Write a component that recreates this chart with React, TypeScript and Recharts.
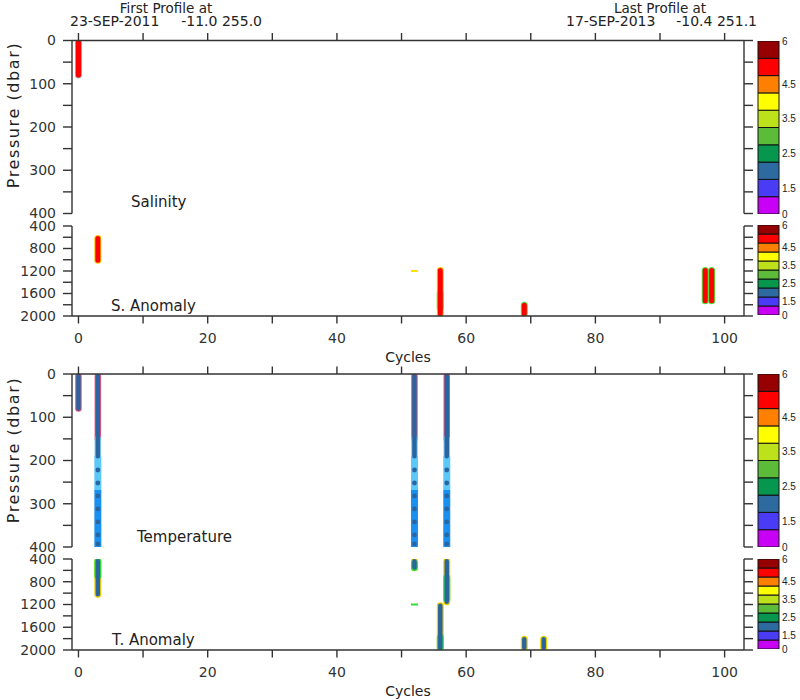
import React from 'react';
import { ComposedChart, Line, Scatter, XAxis, YAxis, BarChart, Bar } from 'recharts';

const FONT = 'DejaVu Sans';
const AXIS = '#333';

// axes
const cycleTicks = [0, 10, 20, 30, 40, 50, 60, 70, 80, 90, 100];
const shallowTicks = [0, 50, 100, 150, 200, 250, 300, 350, 400];
const deepTicks = [400, 600, 800, 1000, 1200, 1400, 1600, 1800, 2000];

// colour bar (bottom band first)
const bandColors = ['#c800f5', '#4a3cf5', '#2c6aa0', '#06964e', '#5dbb3a', '#bde21c', '#ffff00', '#ff8000', '#ff0000', '#960000'];
const colorbarBands = [{ name: 'cb', b0: 1, b1: 1, b2: 1, b3: 1, b4: 1, b5: 1, b6: 1, b7: 1, b8: 1, b9: 1 }];
const colorbarLabels = ['0', '1.5', '2.5', '3.5', '4.5', '6'];
const colorbarLabelAt = [0, 1.5, 3.5, 5.5, 7.5, 10];

// header
const firstProfile = { date: '23-SEP-2011', pos: '-11.0 255.0' };
const lastProfile = { date: '17-SEP-2013', pos: '-10.4 251.1' };

// Salinity 0-400 dbar: one column per profile, pressure range of the marks
const salCore = [{ cycle: 0, top: 5, bottom: 80 }];
const salEdge = [{ cycle: 0, top: 5, bottom: 80 }];

// S. Anomaly 400-2000 dbar
const sAnomCore = [
  { cycle: 3, top: 620, bottom: 1010 },
  { cycle: 56, top: 1190, bottom: 1960 },
  { cycle: 69, top: 1810, bottom: 1960 },
  { cycle: 97, top: 1190, bottom: 1730 },
  { cycle: 98, top: 1190, bottom: 1730 },
];
const sAnomYellow = [
  { cycle: 3, top: 620, bottom: 1010 },
  { cycle: 56, top: 1190, bottom: 1960 },
];
const sAnomGreen = [
  { cycle: 56, top: 1600, bottom: 1850 },
  { cycle: 69, top: 1810, bottom: 1960 },
  { cycle: 97, top: 1190, bottom: 1730 },
  { cycle: 98, top: 1190, bottom: 1730 },
];
const sAnomDash = [{ cycle: 52, p: 1200 }];

// Temperature 0-400 dbar
const tempCore = [
  { cycle: 0, top: 5, bottom: 80 },
  { cycle: 3, top: 5, bottom: 190 },
  { cycle: 52, top: 5, bottom: 190 },
  { cycle: 57, top: 5, bottom: 190 },
];
const tempPink = [
  { cycle: 0, top: 5, bottom: 80 },
  { cycle: 3, top: 5, bottom: 150 },
  { cycle: 52, top: 5, bottom: 150 },
  { cycle: 57, top: 5, bottom: 150 },
];
const tempPale = [
  { cycle: 3, top: 150, bottom: 190 },
  { cycle: 52, top: 150, bottom: 190 },
  { cycle: 57, top: 150, bottom: 190 },
];
const tempCyan = [
  { cycle: 3, top: 190, bottom: 268 },
  { cycle: 52, top: 190, bottom: 268 },
  { cycle: 57, top: 190, bottom: 268 },
];
const tempBlue = [
  { cycle: 3, top: 268, bottom: 400 },
  { cycle: 52, top: 268, bottom: 400 },
  { cycle: 57, top: 268, bottom: 400 },
];
const tempDotCycles = [3, 52, 57];
const tempDotPressures = [222, 252, 282, 312, 342, 372, 393];

// T. Anomaly 400-2000 dbar
const tAnomCore = [
  { cycle: 3, top: 440, bottom: 1020 },
  { cycle: 52, top: 440, bottom: 550 },
  { cycle: 57, top: 440, bottom: 1150 },
  { cycle: 56, top: 1220, bottom: 1960 },
  { cycle: 69, top: 1810, bottom: 1960 },
  { cycle: 72, top: 1810, bottom: 1960 },
];
const tAnomYellow = [
  { cycle: 3, top: 440, bottom: 1020 },
  { cycle: 52, top: 440, bottom: 550 },
  { cycle: 57, top: 440, bottom: 1150 },
  { cycle: 56, top: 1220, bottom: 1960 },
  { cycle: 69, top: 1810, bottom: 1960 },
  { cycle: 72, top: 1810, bottom: 1960 },
];
const tAnomGreen = [
  { cycle: 3, top: 440, bottom: 700 },
  { cycle: 52, top: 480, bottom: 550 },
  { cycle: 57, top: 730, bottom: 1100 },
  { cycle: 56, top: 1780, bottom: 1960 },
];
const tAnomDash = [{ cycle: 52, p: 1200 }];

type Seg = { cycle: number; top: number; bottom: number };

const toPath = (segs: Seg[]) =>
  segs.flatMap((s) => [
    { x: s.cycle, y: s.top },
    { x: s.cycle, y: s.bottom },
    { x: s.cycle, y: null },
  ]);

function seg(key: string, segs: Seg[], color: string, width: number, cap = 'round') {
  return (
    <Line
      key={key}
      yAxisId="l"
      data={toPath(segs)}
      dataKey="y"
      stroke={color}
      strokeWidth={width}
      strokeLinecap={cap as any}
      dot={false}
      activeDot={false}
      connectNulls={false}
      isAnimationActive={false}
    />
  );
}

function dash(key: string, pts: { cycle: number; p: number }[], color: string) {
  return (
    <Scatter
      key={key}
      yAxisId="l"
      data={pts.map((d) => ({ x: d.cycle, y: d.p }))}
      isAnimationActive={false}
      shape={(props: any) => <rect x={props.cx - 3.5} y={props.cy - 1} width={7} height={2} fill={color} />}
    />
  );
}

const tickStyle = { fill: AXIS, fontSize: 14, fontFamily: FONT };

function Panel({ plotTop, plotBottom, axisAt, domain, ticks, labelStep, children }: any) {
  const xh = axisAt === 'top' ? 10 : 30;
  const margin =
    axisAt === 'top'
      ? { top: plotTop - xh, bottom: 700 - plotBottom, left: 12, right: 36 }
      : { top: plotTop, bottom: 700 - plotBottom - xh, left: 12, right: 36 };
  return (
    <div style={{ position: 'absolute', left: 0, top: 0 }}>
      <ComposedChart width={800} height={700} margin={margin}>
        <XAxis
          type="number"
          dataKey="x"
          domain={[-1, 103]}
          allowDataOverflow
          ticks={cycleTicks}
          interval={0}
          orientation={axisAt}
          height={xh}
          stroke={AXIS}
          strokeWidth={1.4}
          tickSize={7.5}
          tickMargin={10}
          tick={tickStyle}
          tickFormatter={(v: number) => (axisAt === 'bottom' && v % 20 === 0 ? String(v) : '')}
        />
        <YAxis
          yAxisId="l"
          type="number"
          dataKey="y"
          reversed
          domain={domain}
          allowDataOverflow
          ticks={ticks}
          interval={0}
          width={60}
          stroke={AXIS}
          strokeWidth={1.4}
          tickSize={9}
          tickMargin={7}
          tick={tickStyle}
          tickFormatter={(v: number) => (v % labelStep === 0 ? String(v) : '')}
        />
        <YAxis
          yAxisId="r"
          orientation="right"
          type="number"
          dataKey="y"
          reversed
          domain={domain}
          allowDataOverflow
          ticks={ticks}
          interval={0}
          width={20}
          stroke={AXIS}
          strokeWidth={1.4}
          tickSize={9}
          tick={tickStyle}
          tickFormatter={() => ''}
        />
        {children}
      </ComposedChart>
    </div>
  );
}

function ColorBar({ plotTop, plotBottom }: { plotTop: number; plotBottom: number }) {
  return (
    <div style={{ position: 'absolute', left: 0, top: 0 }}>
      <BarChart
        width={800}
        height={700}
        data={colorbarBands}
        margin={{ top: plotTop, bottom: 700 - plotBottom, left: 758, right: 0 }}
        barCategoryGap={0}
      >
        <XAxis dataKey="name" hide height={0} />
        <YAxis
          orientation="right"
          type="number"
          domain={[0, 10]}
          allowDataOverflow
          ticks={colorbarLabelAt}
          interval={0}
          width={21}
          axisLine={false}
          tickLine={false}
          tickSize={0}
          tickMargin={3}
          tick={{ fill: '#222', fontSize: 10, fontFamily: 'Liberation Sans' }}
          tickFormatter={(_v: number, i: number) => colorbarLabels[i]}
        />
        {bandColors.map((c, i) => (
          <Bar key={i} dataKey={'b' + i} stackId="cb" fill={c} stroke="#111" strokeWidth={1} isAnimationActive={false} />
        ))}
      </BarChart>
    </div>
  );
}

const txt = { fontFamily: FONT, fill: '#222' };

export default function App() {
  const dots = tempDotCycles.flatMap((c) => tempDotPressures.map((p) => ({ x: c, y: p })));
  return (
    <div style={{ position: 'absolute', left: 0, top: 0, width: 800, height: 700, background: '#fff' }}>
      <Panel plotTop={40.5} plotBottom={213.5} axisAt="top" domain={[0, 400]} ticks={shallowTicks} labelStep={100}>
        {seg('se', salEdge, '#8fd0f0', 7)}
        {seg('sc', salCore, '#ff0000', 5.5)}
      </Panel>
      <Panel plotTop={226} plotBottom={316} axisAt="bottom" domain={[400, 2000]} ticks={deepTicks} labelStep={400}>
        {seg('ay', sAnomYellow, '#ffc800', 7)}
        {seg('ag', sAnomGreen, '#50e040', 7)}
        {seg('ac', sAnomCore, '#ff0000', 5)}
        {dash('ad', sAnomDash, '#ffe000')}
      </Panel>
      <Panel plotTop={374} plotBottom={547} axisAt="top" domain={[0, 400]} ticks={shallowTicks} labelStep={100}>
        {seg('tp', tempPink, '#e8507c', 6.5)}
        {seg('tl', tempPale, '#80c8f0', 6.5)}
        {seg('tcy', tempCyan, '#5cc8f8', 7, 'butt')}
        {seg('tb', tempBlue, '#1a90f0', 7, 'butt')}
        {seg('tc', tempCore, '#2b65a0', 4.5)}
        <Scatter
          yAxisId="l"
          data={dots}
          isAnimationActive={false}
          shape={(props: any) => <circle cx={props.cx} cy={props.cy} r={2.4} fill="#2b65a0" />}
        />
      </Panel>
      <Panel plotTop={559} plotBottom={650} axisAt="bottom" domain={[400, 2000]} ticks={deepTicks} labelStep={400}>
        {seg('uy', tAnomYellow, '#f0d000', 7)}
        {seg('ug', tAnomGreen, '#30e030', 7)}
        {seg('uc', tAnomCore, '#2b65a0', 4.5)}
        {dash('ud', tAnomDash, '#30e030')}
      </Panel>
      <ColorBar plotTop={41} plotBottom={214} />
      <ColorBar plotTop={225} plotBottom={315} />
      <ColorBar plotTop={374} plotBottom={547} />
      <ColorBar plotTop={559} plotBottom={649} />
      <svg width={800} height={700} style={{ position: 'absolute', left: 0, top: 0, pointerEvents: 'none' }}>
        <text x={166} y={13} textAnchor="middle" fontSize={13.5} {...txt}>First Profile at</text>
        <text x={70} y={26} fontSize={14} {...txt}>{firstProfile.date}</text>
        <text x={262} y={26} textAnchor="end" fontSize={14} {...txt}>{firstProfile.pos}</text>
        <text x={660} y={13} textAnchor="middle" fontSize={13.5} {...txt}>Last Profile at</text>
        <text x={566} y={26} fontSize={14} {...txt}>{lastProfile.date}</text>
        <text x={757} y={26} textAnchor="end" fontSize={14} {...txt}>{lastProfile.pos}</text>
        <text x={19} y={115} transform="rotate(-90 19 115)" textAnchor="middle" fontSize={16} letterSpacing={1.6} {...txt}>Pressure (dbar)</text>
        <text x={19} y={450} transform="rotate(-90 19 450)" textAnchor="middle" fontSize={16} letterSpacing={1.6} {...txt}>Pressure (dbar)</text>
        <text x={131} y={207} fontSize={15} {...txt}>Salinity</text>
        <text x={111} y={311} fontSize={15} {...txt}>S. Anomaly</text>
        <text x={137} y={542} fontSize={15} {...txt}>Temperature</text>
        <text x={112} y={645} fontSize={15} {...txt}>T. Anomaly</text>
        <text x={408} y={362} textAnchor="middle" fontSize={14} {...txt}>Cycles</text>
        <text x={408} y={696} textAnchor="middle" fontSize={14} {...txt}>Cycles</text>
      </svg>
    </div>
  );
}
